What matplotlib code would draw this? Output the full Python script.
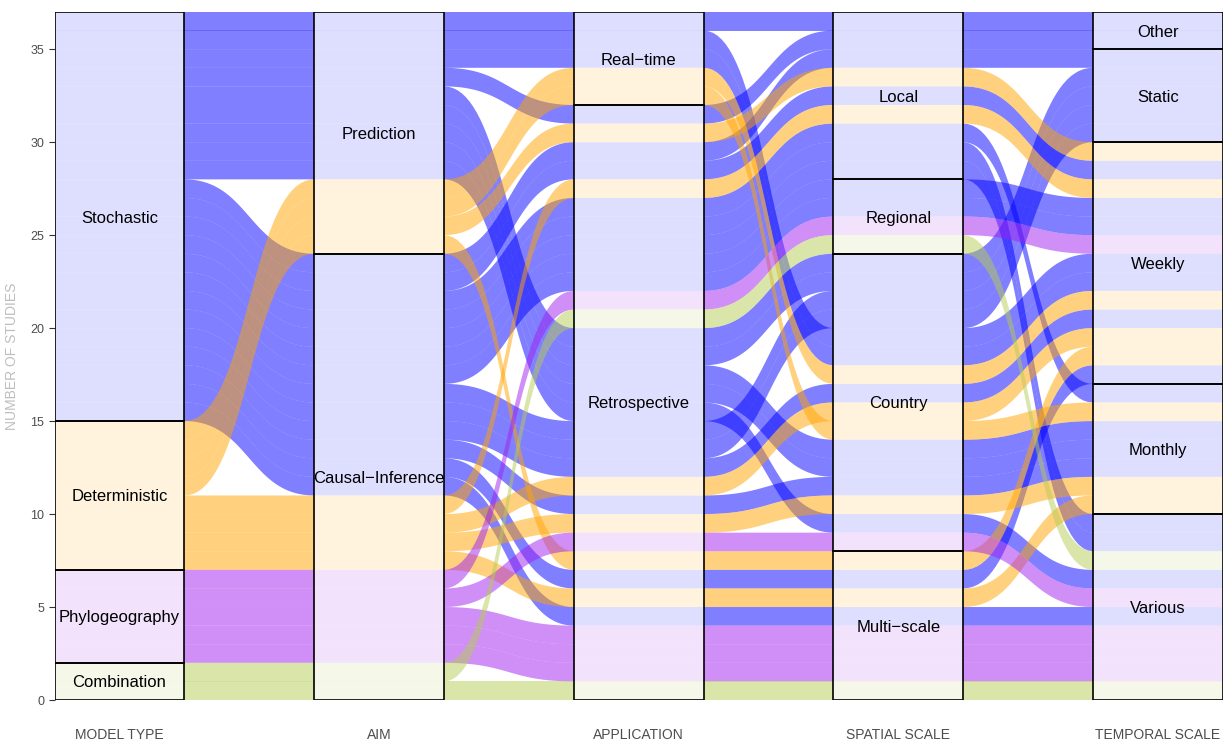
import numpy as np
import matplotlib.pyplot as plt
from matplotlib.patches import Polygon, Rectangle

plt.rcParams['font.family'] = ['Liberation Sans', 'DejaVu Sans']

# one entry per study (37 studies)
model_type = ["Stochastic", "Stochastic", "Stochastic", "Deterministic", "Deterministic",
              "Stochastic", "Stochastic", "Deterministic", "Stochastic", "Deterministic",
              "Stochastic", "Stochastic", "Stochastic", "Stochastic", "Stochastic",
              "Phylogeography", "Combination", "Stochastic", "Stochastic", "Stochastic",
              "Stochastic", "Stochastic", "Deterministic", "Stochastic", "Stochastic",
              "Stochastic", "Deterministic", "Stochastic", "Phylogeography", "Deterministic",
              "Stochastic", "Deterministic", "Stochastic", "Phylogeography", "Phylogeography",
              "Phylogeography", "Combination"]
aim = ["Prediction", "Prediction", "Prediction", "Prediction", "Prediction",
       "Prediction", "Causal-Inference", "Prediction", "Causal-Inference", "Causal-Inference",
       "Causal-Inference", "Causal-Inference", "Causal-Inference", "Causal-Inference", "Causal-Inference",
       "Causal-Inference", "Causal-Inference", "Prediction", "Prediction", "Causal-Inference",
       "Causal-Inference", "Causal-Inference", "Causal-Inference", "Prediction", "Prediction",
       "Causal-Inference", "Causal-Inference", "Prediction", "Causal-Inference", "Prediction",
       "Causal-Inference", "Causal-Inference", "Causal-Inference", "Causal-Inference", "Causal-Inference",
       "Causal-Inference", "Causal-Inference"]
application = ["Real-time"] * 5 + ["Retrospective"] * 32
spatial_scale = ["Local", "Country", "Country", "Country", "Country",
                 "Local", "Local", "Local", "Local", "Local",
                 "Local", "Local", "Local", "Regional", "Regional",
                 "Regional", "Regional", "Country", "Country", "Country",
                 "Country", "Country", "Country", "Country", "Country",
                 "Country", "Country", "Country", "Country", "Multi-scale",
                 "Multi-scale", "Multi-scale", "Multi-scale", "Multi-scale", "Multi-scale",
                 "Multi-scale", "Multi-scale"]
temporal_scale = ["Other", "Weekly", "Weekly", "Weekly", "Monthly",
                  "Other", "Static", "Weekly", "Weekly", "Weekly",
                  "Monthly", "Various", "Various", "Weekly", "Weekly",
                  "Weekly", "Various", "Static", "Static", "Static",
                  "Static", "Weekly", "Weekly", "Monthly", "Monthly",
                  "Monthly", "Monthly", "Various", "Various", "Weekly",
                  "Weekly", "Monthly", "Various", "Various", "Various",
                  "Various", "Various"]

axis_names = ["MODEL TYPE", "AIM", "APPLICATION", "SPATIAL SCALE", "TEMPORAL SCALE"]
levels = [
    ["Stochastic", "Deterministic", "Phylogeography", "Combination"],
    ["Prediction", "Causal-Inference"],
    ["Real-time", "Retrospective"],
    ["Local", "Regional", "Country", "Multi-scale"],
    ["Other", "Static", "Weekly", "Monthly", "Various"],
]
fill_colors = {"Stochastic": "#0000FF", "Deterministic": "#FFA500",
               "Phylogeography": "#A020F0", "Combination": "#B4CC55"}

columns = [model_type, aim, application, spatial_scale, temporal_scale]
codes = np.array([[levels[k].index(v) for v in col] for k, col in enumerate(columns)])
n_ax, n = codes.shape

# lode ordering within strata: own stratum, then the other axes zigzagging outward
guidance = {0: [1, 2, 3, 4], 1: [0, 2, 3, 4], 2: [3, 1, 4, 0], 3: [4, 2, 1, 0], 4: [3, 2, 1, 0]}
ytop = np.zeros((n_ax, n))
for k in range(n_ax):
    keys = [codes[k]] + [codes[j] for j in guidance[k]]
    order = sorted(range(n), key=lambda s: tuple(kk[s] for kk in keys) + (s,))
    for rank, s in enumerate(order):
        ytop[k, s] = n - rank

xs = np.arange(1, n_ax + 1)
w = 0.5

fig = plt.figure(figsize=(12.27, 7.42), dpi=100)
ax = fig.add_axes([0.0445, 0.0566, 0.952, 0.9272])


def bez(x0, y0, x1, y1, m=40):
    t = np.linspace(0, 1, m)
    dx = x1 - x0
    px = (1 - t) ** 3 * x0 + 3 * (1 - t) ** 2 * t * (x0 + dx / 2) + 3 * (1 - t) * t ** 2 * (x1 - dx / 2) + t ** 3 * x1
    py = (1 - t) ** 3 * y0 + 3 * (1 - t) ** 2 * t * y0 + 3 * (1 - t) * t ** 2 * y1 + t ** 3 * y1
    return px, py


# alluvia, drawn by model type so later levels sit on top
for lev in levels[0]:
    for s in range(n):
        if model_type[s] != lev:
            continue
        top_x, top_y = [], []
        bot_x, bot_y = [], []
        for k in range(n_ax):
            yt = ytop[k, s]
            top_x += [xs[k] - w / 2, xs[k] + w / 2]
            top_y += [yt, yt]
            bot_x += [xs[k] - w / 2, xs[k] + w / 2]
            bot_y += [yt - 1, yt - 1]
            if k < n_ax - 1:
                x0, x1 = xs[k] + w / 2, xs[k + 1] - w / 2
                px, py = bez(x0, yt, x1, ytop[k + 1, s])
                top_x += list(px[1:-1])
                top_y += list(py[1:-1])
                px, py = bez(x0, yt - 1, x1, ytop[k + 1, s] - 1)
                bot_x += list(px[1:-1])
                bot_y += list(py[1:-1])
        pts = np.column_stack([top_x + bot_x[::-1], top_y + bot_y[::-1]])
        ax.add_patch(Polygon(pts, closed=True, facecolor=fill_colors[lev], alpha=0.5,
                             edgecolor='none', zorder=2))

# strata
for k in range(n_ax):
    counts = np.bincount(codes[k], minlength=len(levels[k]))
    top = n
    for j, lab in enumerate(levels[k]):
        c = counts[j]
        ax.add_patch(Rectangle((xs[k] - w / 2, top - c), w, c, facecolor='white', alpha=0.75,
                               edgecolor='none', zorder=3))
        ax.add_patch(Rectangle((xs[k] - w / 2, top - c), w, c, facecolor='none',
                               edgecolor='black', linewidth=1.2, zorder=4))
        ax.text(xs[k], top - c / 2, lab.replace('-', '\u2212'), ha='center', va='center_baseline',
                fontsize=12, color='black', zorder=5)
        top -= c

ax.set_xlim(0.75, 5.25)
ax.set_ylim(0, 37)
ax.set_xticks(xs)
ax.set_xticklabels(axis_names, fontsize=10, color='#4D4D4D')
ax.set_yticks(range(0, 36, 5))
ax.tick_params(axis='y', labelsize=9, labelcolor='#4D4D4D', color='#333333', length=4)
ax.tick_params(axis='x', length=0, pad=20)
ax.set_ylabel("NUMBER OF STUDIES", fontsize=10, color='#BEBEBE', labelpad=8)
for sp in ax.spines.values():
    sp.set_visible(False)

fig.savefig("out.png", dpi=100)
